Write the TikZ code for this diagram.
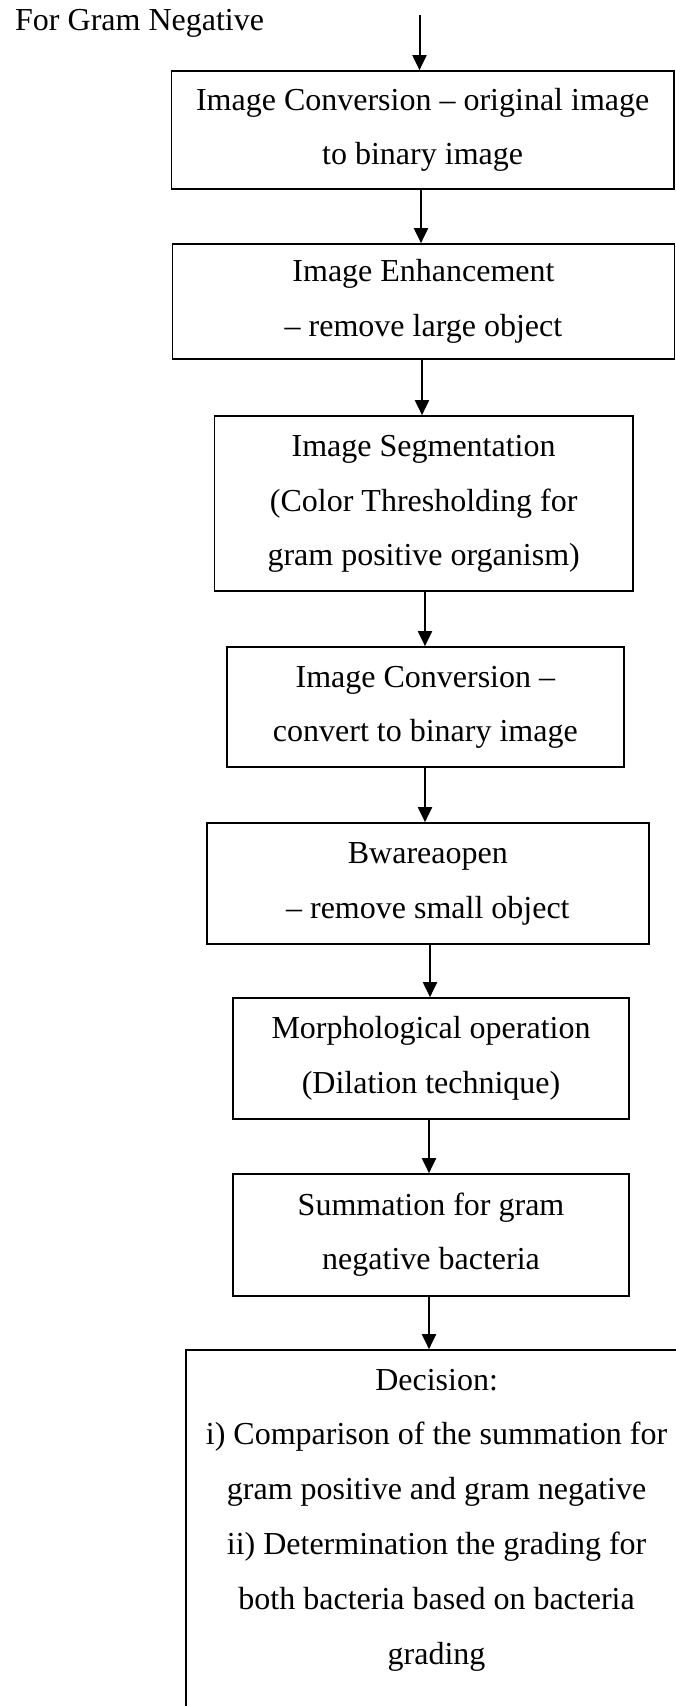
\documentclass[tikz,border=0pt]{standalone}
\usepackage{fontspec}
\setmainfont{Liberation Serif}
\usetikzlibrary{arrows.meta}
\newcommand\sst{\rule[-8pt]{0pt}{31pt}}
\begin{document}
\begin{tikzpicture}[x=1pt,y=-1pt,
  box/.style={draw, line width=1.7pt, rectangle, align=center, inner sep=0pt,
    font=\fontsize{32}{54.8}\selectfont},
  arr/.style={line width=2pt, -{Triangle[length=15pt,width=14pt]}},
  lbl/.style={font=\fontsize{32}{54.8}\selectfont, inner sep=0pt}]
\useasboundingbox (0,0) rectangle (676,1706);
\clip (0,0) rectangle (676,1706);
\fill[white] (0,0) rectangle (676,1706);

\node[lbl, anchor=base west] (title) at (15,30) {For Gram Negative};

\node[box, minimum width=502.1pt, minimum height=118pt] (b1) at (422.65,130)
  {\sst Image Conversion – original image\\\sst to binary image};
\node[box, minimum width=502.2pt, minimum height=115pt] (b2) at (423.5,301.5)
  {\sst Image Enhancement\\\sst – remove large object};
\node[box, minimum width=418.3pt, minimum height=175pt] (b3) at (423.65,503.5)
  {\sst Image Segmentation\\\sst (Color Thresholding for\\\sst gram positive organism)};
\node[box, minimum width=396.7pt, minimum height=120pt] (b4) at (425.35,707)
  {\sst Image Conversion –\\\sst convert to binary image};
\node[box, minimum width=441.7pt, minimum height=121pt] (b5) at (427.85,883.5)
  {\sst Bwareaopen\\\sst – remove small object};
\node[box, minimum width=396.5pt, minimum height=121pt] (b6) at (431.05,1058.5)
  {\sst Morphological operation\\\sst (Dilation technique)};
\node[box, minimum width=396.5pt, minimum height=122pt] (b7) at (431.05,1235)
  {\sst Summation for gram\\\sst negative bacteria};
\node[box, minimum width=501.2pt, minimum height=393.8pt] (b8) at (436.6,1546.9)
  {\sst Decision:\\\sst i) Comparison of the summation for\\\sst gram positive and gram negative\\\sst ii) Determination the grading for\\\sst both bacteria based on bacteria\\\sst grading\\\sst};

\coordinate (s0) at (419.5,15);
\coordinate (x1) at (421,0);
\coordinate (x2) at (422,0);
\coordinate (x3) at (425,0);
\coordinate (x4) at (425,0);
\coordinate (x5) at (430,0);
\coordinate (x6) at (429,0);
\coordinate (x7) at (429,0);

\draw[arr] (s0) -- (b1.north -| s0);
\draw[arr] (b1.south -| x1) -- (b2.north -| x1);
\draw[arr] (b2.south -| x2) -- (b3.north -| x2);
\draw[arr] (b3.south -| x3) -- (b4.north -| x3);
\draw[arr] (b4.south -| x4) -- (b5.north -| x4);
\draw[arr] (b5.south -| x5) -- (b6.north -| x5);
\draw[arr] (b6.south -| x6) -- (b7.north -| x6);
\draw[arr] (b7.south -| x7) -- (b8.north -| x7);
\end{tikzpicture}
\end{document}
